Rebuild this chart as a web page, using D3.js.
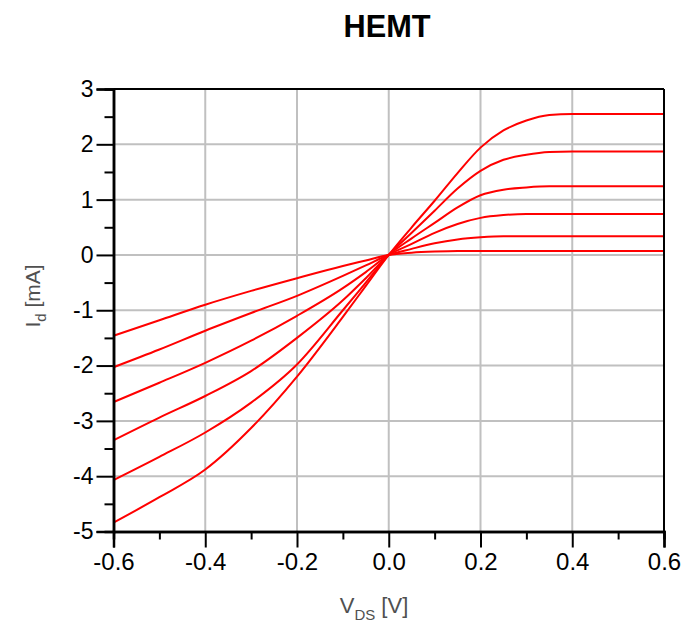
<!DOCTYPE html>
<html>
<head>
<meta charset="utf-8">
<script src="https://cdn.jsdelivr.net/npm/d3@7"></script>
<style>
  html, body { margin: 0; padding: 0; background: #fff; }
  svg { display: block; }
  text { font-family: "Liberation Sans", Arial, sans-serif; }
</style>
</head>
<body>
<svg id="chart" width="684" height="628"></svg>
<script>
// ---- data ----
const vds = [-0.6, -0.5, -0.4, -0.3, -0.2, -0.1, -0.05, 0, 0.05, 0.1, 0.15, 0.2, 0.25, 0.3, 0.35, 0.4, 0.5, 0.6];
const curve1 = [-1.46, -1.18, -0.90, -0.65, -0.42, -0.20, -0.10, 0, 0.04, 0.06, 0.07, 0.07, 0.07, 0.07, 0.07, 0.07, 0.07, 0.07];
const curve2 = [-2.03, -1.71, -1.37, -1.05, -0.74, -0.38, -0.19, 0, 0.11, 0.21, 0.28, 0.32, 0.34, 0.34, 0.34, 0.34, 0.34, 0.34];
const curve3 = [-2.66, -2.31, -1.95, -1.55, -1.10, -0.60, -0.31, 0, 0.20, 0.40, 0.56, 0.67, 0.72, 0.74, 0.74, 0.74, 0.74, 0.74];
const curve4 = [-3.35, -2.94, -2.55, -2.10, -1.50, -0.82, -0.42, 0, 0.30, 0.58, 0.86, 1.08, 1.18, 1.22, 1.24, 1.24, 1.24, 1.24];
const curve5 = [-4.07, -3.65, -3.21, -2.67, -1.98, -1.00, -0.50, 0, 0.40, 0.80, 1.20, 1.52, 1.72, 1.81, 1.86, 1.87, 1.87, 1.87];
const curve6 = [-4.84, -4.38, -3.88, -3.13, -2.20, -1.12, -0.56, 0, 0.50, 0.98, 1.48, 1.94, 2.25, 2.43, 2.53, 2.55, 2.55, 2.55];
const seriesList = [curve1, curve2, curve3, curve4, curve5, curve6];
const xTicks = [-0.6, -0.4, -0.2, 0.0, 0.2, 0.4, 0.6];
const xMinor = [-0.5, -0.3, -0.1, 0.1, 0.3, 0.5];
const yTicks = [-5, -4, -3, -2, -1, 0, 1, 2, 3];
const yMinor = [-4.5, -3.5, -2.5, -1.5, -0.5, 0.5, 1.5, 2.5];
const titleText = "HEMT";

// ---- layout ----
const L = 113.5, R = 664, T = 89, B = 531.5;
const svg = d3.select("#chart");
const x = d3.scaleLinear().domain([-0.6, 0.6]).range([L, R]);
const y = d3.scaleLinear().domain([-5, 3]).range([B, T]);

// grid
const grid = svg.append("g");
grid.selectAll("line.gx").data(xTicks.filter(v => v > -0.6 && v < 0.6)).enter().append("line")
  .attr("x1", d => x(d)).attr("x2", d => x(d)).attr("y1", T).attr("y2", B)
  .attr("stroke", "#c0c0c0").attr("stroke-width", 2);
grid.selectAll("line.gy").data(yTicks.filter(v => v > -5 && v < 3)).enter().append("line")
  .attr("x1", L).attr("x2", R).attr("y1", d => y(d)).attr("y2", d => y(d))
  .attr("stroke", "#c0c0c0").attr("stroke-width", 2);

// curves
const line = d3.line().x(d => x(d[0])).y(d => y(d[1])).curve(d3.curveMonotoneX);
svg.append("g").selectAll("path").data(seriesList).enter().append("path")
  .attr("d", s => line(vds.map((v, i) => [v, s[i]])))
  .attr("fill", "none").attr("stroke", "#ff0000").attr("stroke-width", 2);

// frame (top & right)
svg.append("line").attr("x1", L).attr("x2", R).attr("y1", T).attr("y2", T).attr("stroke", "#000").attr("stroke-width", 2);
svg.append("line").attr("x1", R).attr("x2", R).attr("y1", T).attr("y2", B).attr("stroke", "#000").attr("stroke-width", 2);

// axes
const xAxis = d3.axisBottom(x).tickValues(xTicks).tickFormat(d3.format(".1f")).tickSize(16).tickPadding(5);
const xAxisMinor = d3.axisBottom(x).tickValues(xMinor).tickFormat("").tickSize(8);
const yAxis = d3.axisLeft(y).tickValues(yTicks).tickFormat(d3.format("d")).tickSize(17).tickPadding(3);
const yAxisMinor = d3.axisLeft(y).tickValues(yMinor).tickFormat("").tickSize(9);

function style(g, fs) {
  g.select(".domain").attr("stroke", "#000").attr("stroke-width", 2.5);
  g.selectAll(".tick line").attr("stroke", "#000").attr("stroke-width", 2);
  g.selectAll(".tick text").attr("fill", "#000").attr("font-size", fs)
    .attr("font-family", "'Liberation Sans', Arial, sans-serif");
}
const gx = svg.append("g").attr("transform", `translate(0,${B})`).call(xAxis);
style(gx, 24);
gx.selectAll(".tick text").text(d => d3.format(".1f")(d).replace("−", "-"));
const gxm = svg.append("g").attr("transform", `translate(0,${B})`).call(xAxisMinor);
style(gxm, 24);
const gy = svg.append("g").attr("transform", `translate(${L},0)`).call(yAxis);
style(gy, 23);
gy.selectAll(".tick text").text(d => String(d));
const gym = svg.append("g").attr("transform", `translate(${L},0)`).call(yAxisMinor);
style(gym, 23);

// title
svg.append("text").attr("x", 387).attr("y", 37).attr("text-anchor", "middle")
  .attr("font-size", 32).attr("font-weight", "bold").attr("fill", "#000")
  .attr("textLength", 87).attr("lengthAdjust", "spacingAndGlyphs")
  .text(titleText);

// x axis title
const xt = svg.append("text").attr("x", 374).attr("y", 613).attr("text-anchor", "middle")
  .attr("font-size", 22).attr("fill", "#505050");
xt.append("tspan").text("V");
xt.append("tspan").attr("font-size", 15).attr("dy", 7).text("DS");
xt.append("tspan").attr("dy", -7).text(" [V]");

// y axis title
const yt = svg.append("text").attr("transform", "translate(40,296) rotate(-90)").attr("text-anchor", "middle")
  .attr("font-size", 21).attr("fill", "#505050");
yt.append("tspan").text("I");
yt.append("tspan").attr("font-size", 15).attr("dy", 6).text("d");
yt.append("tspan").attr("dy", -6).text(" [mA]");
</script>
</body>
</html>
